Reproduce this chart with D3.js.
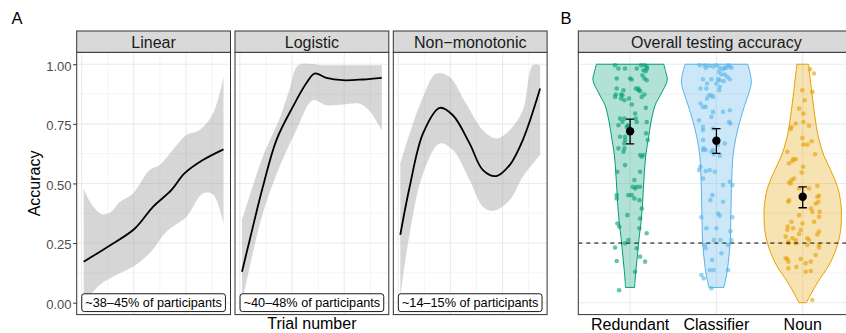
<!DOCTYPE html>
<html>
<head>
<meta charset="utf-8">
<script src="https://cdn.jsdelivr.net/npm/d3@7"></script>
<style>
  body { margin: 0; background: #fff; }
</style>
</head>
<body>
<script>
// ---- data ----
const facets = ['Linear', 'Logistic', 'Non\u2212monotonic'];
const shareLabels = ['~38\u201345% of participants', '~40\u201348% of participants', '~14\u201315% of participants'];

const trialGrid = [0, 12.5, 25, 37.5, 50, 62.5];
const accTicks = [0, 0.25, 0.5, 0.75, 1];
const accMinor = [0.125, 0.375, 0.625, 0.875];

// fitted curves [trial, accuracy]
const linearFit = [[1, .172], [12.6, .235], [25.4, .31], [34.2, .402], [43, .472], [49.3, .542], [58.1, .598], [68, .643]];
const linearHigh = [[1, .479], [5, .41], [10, .37], [14, .38], [18, .42], [24.6, .458], [32.6, .556], [37.4, .577], [43.7, .64], [50.2, .703], [56.6, .724], [63, .793], [68, .947]];
const linearLow = [[1, .0], [8.7, .074], [16.6, .116], [24.6, .151], [32.6, .207], [40.6, .297], [50.2, .36], [58.1, .458], [62.9, .455], [68, .333]];

const logisticFit = [[1, .13], [4.7, .263], [11, .486], [17.5, .682], [25.4, .822], [31.8, .92], [35.8, .961], [41.4, .943], [49.3, .933], [58.9, .936], [68, .943]];
const logisticHigh = [[1, .346], [11, .612], [19.3, .779], [24, .9], [28, .996], [40, .996], [55, .996], [68, .996]];
const logisticLow = [[1, .0], [4.7, .15], [11, .375], [19, .57], [27, .723], [35, .849], [41.4, .828], [49.3, .831], [57, .835], [61.8, .807], [68, .723]];

const nonmonoFit = [[1, .284], [5.5, .486], [11.9, .71], [19.9, .817], [26.2, .786], [34.2, .668], [40.6, .556], [47, .531], [53.4, .577], [59.7, .682], [68, .898]];
const nonmonoHigh = [[1, .584], [5.5, .71], [11.9, .863], [18.2, .961], [24.5, .947], [32.5, .835], [40.6, .723], [47, .689], [53.4, .723], [59.7, .807], [64.5, .996], [68, .996]];
const nonmonoLow = [[1, .025], [5.5, .29], [11.9, .542], [19.9, .668], [26.2, .64], [34.2, .514], [40.6, .402], [45.4, .385], [53.4, .43], [59.7, .528], [68, .619]];

const fits = [linearFit, logisticFit, nonmonoFit];
const highs = [linearHigh, logisticHigh, nonmonoHigh];
const lows = [linearLow, logisticLow, nonmonoLow];

// panel B
const categories = ['Redundant', 'Classifier', 'Noun'];
const catColors = ['#009E73', '#56B4E9', '#E69F00'];
const means = [0.719, 0.679, 0.444];
const ciLow = [0.666, 0.626, 0.398];
const ciHigh = [0.770, 0.730, 0.486];
const chance = 0.25;

// violin outlines [accuracy, half width in category units]
const redundantViolin = [[1.0, .39], [.968, .413], [.933, .43], [.87, .35], [.828, .29], [.758, .243], [.689, .212], [.619, .182], [.549, .166], [.479, .154], [.409, .143], [.339, .127], [.27, .104], [.2, .085], [.13, .066], [.064, .052]];
const classifierViolin = [[1.0, .363], [.926, .405], [.87, .367], [.828, .328], [.758, .27], [.689, .224], [.619, .193], [.549, .181], [.479, .174], [.409, .17], [.339, .166], [.27, .162], [.2, .147], [.13, .124], [.064, .087]];
const nounViolin = [[1.0, .068], [.898, .10], [.758, .15], [.689, .185], [.619, .243], [.549, .332], [.479, .409], [.409, .444], [.367, .448], [.298, .437], [.228, .39], [.158, .305], [.088, .178], [.032, .089], [0.0, .043]];

// jittered participants [offset in category units, accuracy]
const redundantPts = [[-0.174, 0.996], [0.127, 0.996], [0.166, 0.996], [0.193, 0.990], [-0.135, 0.982], [-0.058, 0.982], [0.077, 0.982], [0.197, 0.982], [0.155, 0.975],
  [0.182, 0.971], [0.143, 0.954], [-0.155, 0.940], [0.000, 0.940], [0.019, 0.936], [0.166, 0.940], [0.193, 0.933], [-0.155, 0.898], [0.066, 0.898], [0.097, 0.898],
  [-0.077, 0.891], [0.097, 0.891], [0.116, 0.887], [-0.166, 0.873], [-0.104, 0.873], [-0.089, 0.870], [0.166, 0.873], [-0.174, 0.863], [0.135, 0.863],
  [-0.104, 0.856], [-0.012, 0.856], [-0.066, 0.849], [0.019, 0.831], [0.182, 0.817], [0.058, 0.793], [-0.116, 0.772], [-0.066, 0.772], [0.066, 0.772],
  [-0.089, 0.758], [0.077, 0.758], [0.193, 0.758], [-0.135, 0.744], [-0.027, 0.744], [-0.019, 0.740], [-0.039, 0.737], [0.185, 0.710], [-0.116, 0.696],
  [-0.058, 0.696], [-0.058, 0.682], [0.205, 0.682], [-0.066, 0.668], [-0.135, 0.647], [-0.066, 0.647], [-0.077, 0.633], [0.116, 0.619], [0.155, 0.619],
  [0.135, 0.612], [-0.058, 0.577], [-0.147, 0.549], [0.116, 0.549], [0.050, 0.514], [0.031, 0.486], [0.077, 0.486], [0.116, 0.486], [0.058, 0.479],
  [-0.155, 0.451], [-0.019, 0.451], [0.019, 0.451], [-0.155, 0.437], [0.050, 0.437], [0.108, 0.430], [0.135, 0.395], [-0.031, 0.367], [0.116, 0.353],
  [-0.147, 0.332], [-0.124, 0.318], [0.108, 0.312], [0.193, 0.291], [-0.019, 0.263], [-0.058, 0.249], [-0.174, 0.231], [0.077, 0.228], [0.116, 0.193],
  [-0.155, 0.175], [0.174, 0.172], [0.058, 0.130], [-0.127, 0.052]];
const classifierPts = [[-0.193, 0.996], [-0.135, 0.996], [-0.085, 0.993], [-0.039, 0.990], [0, 0.996], [0.135, 0.996], [0.155, 0.990], [-0.124, 0.985], [0.097, 0.985],
  [0.116, 0.985], [0.174, 0.985], [0.039, 0.985], [0.077, 0.979], [0.031, 0.968], [0.058, 0.957], [0.097, 0.957], [0.124, 0.947], [-0.155, 0.937], [-0.058, 0.937],
  [0.019, 0.937], [0.039, 0.933], [0.155, 0.937], [0.085, 0.929], [-0.108, 0.919], [0, 0.919], [0.039, 0.905], [-0.185, 0.898], [-0.116, 0.898], [0.031, 0.891],
  [-0.085, 0.870], [-0.058, 0.870], [-0.039, 0.863], [-0.108, 0.856], [-0.185, 0.835], [-0.155, 0.821], [-0.124, 0.821], [0.155, 0.807], [-0.039, 0.800],
  [0.077, 0.800], [-0.058, 0.779], [-0.201, 0.765], [0.147, 0.758], [0.162, 0.751], [-0.155, 0.737], [-0.039, 0.730], [-0.155, 0.723], [-0.155, 0.682],
  [0.097, 0.668], [0.019, 0.661], [-0.147, 0.647], [-0.155, 0.640], [-0.124, 0.640], [-0.039, 0.640], [-0.058, 0.633], [-0.031, 0.623], [0.039, 0.616],
  [-0.185, 0.570], [-0.201, 0.556], [-0.077, 0.556], [-0.124, 0.552], [-0.019, 0.549], [-0.155, 0.521], [0.155, 0.507], [0.077, 0.493], [0.185, 0.493],
  [-0.046, 0.451], [-0.070, 0.430], [0.077, 0.423], [0.019, 0.374], [0.039, 0.365], [-0.174, 0.358], [0.185, 0.358], [-0.116, 0.312], [0, 0.312],
  [0.162, 0.300], [-0.031, 0.263], [0.046, 0.263], [0.174, 0.263], [-0.135, 0.242], [0.135, 0.242], [-0.124, 0.228], [0.058, 0.207], [-0.050, 0.179],
  [-0.077, 0.137], [-0.031, 0.137], [0.135, 0.137], [-0.174, 0.116], [-0.147, 0.102], [-0.058, 0.060]];
const nounPts = [[0.085, 0.979], [0.131, 0.961], [-0.004, 0.891], [0.112, 0.884], [0.023, 0.849], [-0.042, 0.814], [0.008, 0.793], [0.008, 0.758], [-0.081, 0.751],
  [0.073, 0.742], [-0.131, 0.737], [-0.139, 0.728], [-0.004, 0.691], [0.104, 0.677], [0.008, 0.663], [0.054, 0.663], [-0.178, 0.633], [0.143, 0.622],
  [-0.108, 0.602], [-0.081, 0.602], [-0.120, 0.594], [-0.158, 0.584], [0.004, 0.570], [-0.012, 0.546], [-0.100, 0.521], [-0.127, 0.514], [-0.158, 0.504],
  [-0.139, 0.500], [0.170, 0.490], [-0.042, 0.479], [0.073, 0.479], [0.189, 0.448], [0.170, 0.444], [-0.158, 0.430], [-0.166, 0.423], [0.182, 0.423],
  [0.151, 0.416], [0.097, 0.395], [0.112, 0.381], [0.197, 0.381], [-0.042, 0.367], [0.189, 0.360], [-0.131, 0.339], [0.131, 0.339], [-0.004, 0.332],
  [-0.174, 0.319], [-0.112, 0.312], [-0.178, 0.305], [-0.023, 0.305], [0.189, 0.298], [-0.042, 0.288], [0.170, 0.286], [-0.197, 0.277], [-0.120, 0.270],
  [0.054, 0.270], [-0.081, 0.263], [0.073, 0.263], [-0.166, 0.256], [-0.166, 0.249], [-0.081, 0.249], [0.054, 0.242], [0.189, 0.242], [0.189, 0.231],
  [0.151, 0.200], [-0.197, 0.186], [-0.178, 0.183], [-0.023, 0.183], [-0.166, 0.172], [0.093, 0.172], [0.035, 0.165], [-0.073, 0.150], [-0.166, 0.144],
  [0.093, 0.133], [0.035, 0.130], [0.112, 0.011]];

const violins = [redundantViolin, classifierViolin, nounViolin];
const jitterPts = [redundantPts, classifierPts, nounPts];

// ---- layout ----
const W = 846, H = 333;
const font = '"Liberation Sans", Arial, Helvetica, sans-serif';
const stripTop = 31;
const panelTop = 52.3, panelBottom = 314.6;
const panelW = 153.8;
const panelLefts = [76.7, 235.0, 393.3];
const bLeft = 578.3, bRight = 854.5;

const svg = d3.select('body').append('svg')
    .attr('width', W)
    .attr('height', H)
    .style('font-family', font);

const y = d3.scaleLinear().domain([-0.05, 1.05]).range([panelBottom, panelTop]);

const defs = svg.append('defs');

function drawGridY(g, x0, x1) {
    g.selectAll(null).data(accMinor).join('line')
        .attr('x1', x0).attr('x2', x1)
        .attr('y1', d => y(d)).attr('y2', d => y(d))
        .attr('stroke', '#ebebeb').attr('stroke-width', 0.55);
    g.selectAll(null).data(accTicks).join('line')
        .attr('x1', x0).attr('x2', x1)
        .attr('y1', d => y(d)).attr('y2', d => y(d))
        .attr('stroke', '#ebebeb').attr('stroke-width', 1.1);
}

function drawStrip(x0, x1, label) {
    svg.append('rect')
        .attr('x', x0).attr('y', stripTop)
        .attr('width', x1 - x0).attr('height', panelTop - stripTop)
        .attr('fill', '#d9d9d9').attr('stroke', '#333333').attr('stroke-width', 1);
    svg.append('text')
        .attr('x', (x0 + x1) / 2).attr('y', stripTop + 16.6)
        .attr('text-anchor', 'middle')
        .attr('font-size', '16px').attr('fill', '#1a1a1a')
        .text(label);
}

// ---- panel A ----
facets.forEach((name, i) => {
    const left = panelLefts[i], right = left + panelW;
    const x = d3.scaleLinear().domain([1 - 3.35, 68 + 3.35]).range([left, right]);

    defs.append('clipPath').attr('id', 'clip' + i)
        .append('rect').attr('x', left).attr('y', panelTop)
        .attr('width', panelW).attr('height', panelBottom - panelTop);

    const g = svg.append('g').attr('clip-path', `url(#clip${i})`);
    drawGridY(g, left, right);
    g.selectAll(null).data(trialGrid).join('line')
        .attr('x1', d => x(d)).attr('x2', d => x(d))
        .attr('y1', panelTop).attr('y2', panelBottom)
        .attr('stroke', '#ebebeb').attr('stroke-width', (d, k) => k % 2 ? 0.55 : 1.1);

    const line = d3.line().x(d => x(d[0])).y(d => y(d[1])).curve(d3.curveCatmullRom);

    // confidence ribbon: upper edge forward, lower edge back
    const up = line(highs[i]);
    const lo = line(lows[i].slice().reverse());
    g.append('path')
        .attr('d', up + 'L' + lo.slice(1) + 'Z')
        .attr('fill', '#999999').attr('fill-opacity', 0.4);

    g.append('path')
        .datum(fits[i])
        .attr('d', line)
        .attr('fill', 'none').attr('stroke', '#000').attr('stroke-width', 1.8);

    // share label
    const lab = svg.append('g');
    const t = lab.append('text')
        .attr('x', (left + right) / 2).attr('y', y(0) + 4.4)
        .attr('text-anchor', 'middle')
        .attr('font-size', '12.7px').attr('fill', '#000')
        .text(shareLabels[i]);
    const tw = t.node().getComputedTextLength();
    lab.insert('rect', 'text')
        .attr('x', (left + right) / 2 - tw / 2 - 3.6).attr('y', y(0) - 8.9)
        .attr('width', tw + 7.2).attr('height', 17.8)
        .attr('rx', 2.5)
        .attr('fill', '#fff').attr('stroke', '#000').attr('stroke-width', 0.9);

    svg.append('rect')
        .attr('x', left).attr('y', panelTop)
        .attr('width', panelW).attr('height', panelBottom - panelTop)
        .attr('fill', 'none').attr('stroke', '#333333').attr('stroke-width', 1);
    drawStrip(left, right, name);
});

// y axis (left of first panel)
const yAxis = svg.append('g')
    .attr('transform', `translate(${panelLefts[0]},0)`)
    .call(d3.axisLeft(y).tickValues(accTicks).tickFormat(d3.format('.2f')).tickSize(3.6).tickPadding(1.6));
yAxis.select('.domain').remove();
yAxis.selectAll('line').attr('stroke', '#333333').attr('stroke-width', 1);
yAxis.selectAll('text')
    .attr('font-size', '13px').attr('fill', '#4d4d4d')
    .attr('font-family', font).attr('dy', '0.45em');

svg.append('text')
    .attr('transform', `translate(39.5,${(panelTop + panelBottom) / 2}) rotate(-90)`)
    .attr('text-anchor', 'middle')
    .attr('font-size', '16px').attr('fill', '#000')
    .text('Accuracy');

svg.append('text')
    .attr('x', panelLefts[1] + panelW / 2).attr('y', 329)
    .attr('text-anchor', 'middle')
    .attr('font-size', '16px').attr('fill', '#000')
    .text('Trial number');

// ---- panel B ----
const xCat = d3.scalePoint().domain(categories).range([bLeft, bRight]).padding(0.6);
const step = xCat.step();
const halfW = d3.scaleLinear().domain([0, 1]).range([0, step]);

defs.append('clipPath').attr('id', 'clipB')
    .append('rect').attr('x', bLeft).attr('y', panelTop)
    .attr('width', bRight - bLeft).attr('height', panelBottom - panelTop);

const gb = svg.append('g').attr('clip-path', 'url(#clipB)');
drawGridY(gb, bLeft, bRight);
gb.selectAll(null).data(categories).join('line')
    .attr('x1', d => xCat(d)).attr('x2', d => xCat(d))
    .attr('y1', panelTop).attr('y2', panelBottom)
    .attr('stroke', '#ebebeb').attr('stroke-width', 1.1);

categories.forEach((c, i) => {
    const cx = xCat(c);
    const area = d3.area()
        .y(d => y(d[0]))
        .x0(d => cx - halfW(d[1]))
        .x1(d => cx + halfW(d[1]))
        .curve(d3.curveCatmullRom);
    gb.append('path')
        .datum(violins[i])
        .attr('d', area)
        .attr('fill', catColors[i]).attr('fill-opacity', 0.3)
        .attr('stroke', catColors[i]).attr('stroke-width', 1);
});

categories.forEach((c, i) => {
    const cx = xCat(c);
    gb.selectAll(null).data(jitterPts[i]).join('circle')
        .attr('cx', d => cx + d[0] * step)
        .attr('cy', d => y(d[1]))
        .attr('r', 2.3)
        .attr('fill', catColors[i]).attr('fill-opacity', 0.6);
});

gb.append('line')
    .attr('x1', bLeft).attr('x2', bRight)
    .attr('y1', y(chance)).attr('y2', y(chance))
    .attr('stroke', '#000').attr('stroke-width', 1).attr('stroke-dasharray', '4,4');

categories.forEach((c, i) => {
    const cx = xCat(c);
    const cap = 0.048 * step;
    const eb = gb.append('g').attr('stroke', '#000').attr('stroke-width', 1.3);
    eb.append('line').attr('x1', cx).attr('x2', cx).attr('y1', y(ciLow[i])).attr('y2', y(ciHigh[i]));
    eb.append('line').attr('x1', cx - cap).attr('x2', cx + cap).attr('y1', y(ciLow[i])).attr('y2', y(ciLow[i]));
    eb.append('line').attr('x1', cx - cap).attr('x2', cx + cap).attr('y1', y(ciHigh[i])).attr('y2', y(ciHigh[i]));
    gb.append('circle')
        .attr('cx', cx).attr('cy', y(means[i]))
        .attr('r', 4.2).attr('fill', '#000');
});

svg.append('rect')
    .attr('x', bLeft).attr('y', panelTop)
    .attr('width', bRight - bLeft).attr('height', panelBottom - panelTop)
    .attr('fill', 'none').attr('stroke', '#333333').attr('stroke-width', 1);
drawStrip(bLeft, bRight, 'Overall testing accuracy');

svg.selectAll(null).data(categories).join('text')
    .attr('x', d => xCat(d)).attr('y', 329.5)
    .attr('text-anchor', 'middle')
    .attr('font-size', '16px').attr('fill', '#000')
    .text(d => d);

// panel tags
svg.append('text').attr('x', 11.5).attr('y', 24).attr('font-size', '16.5px').attr('fill', '#000').text('A');
svg.append('text').attr('x', 560.5).attr('y', 24).attr('font-size', '16.5px').attr('fill', '#000').text('B');
</script>
</body>
</html>
